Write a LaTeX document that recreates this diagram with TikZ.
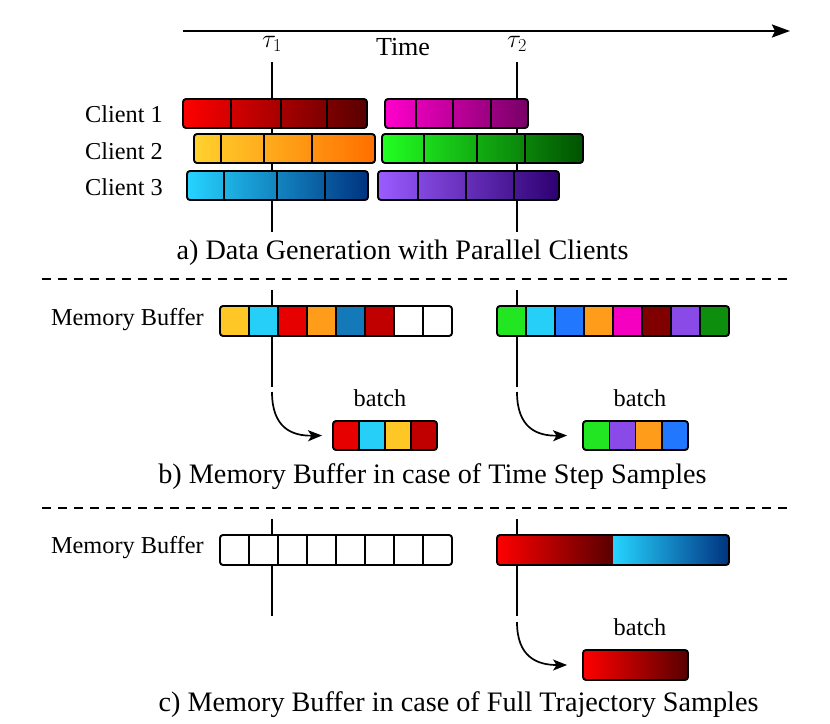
\RequirePackage{fix-cm}
\documentclass[tikz,border=0pt]{standalone}
\usepackage{fontspec}
\setmainfont{Liberation Serif}
\usetikzlibrary{arrows.meta}
\definecolor{rA}{HTML}{FF0000}\definecolor{rB}{HTML}{580000}
\definecolor{mA}{HTML}{FF00CC}\definecolor{mB}{HTML}{780066}
\definecolor{yA}{HTML}{FFD22E}\definecolor{yB}{HTML}{FF6F00}
\definecolor{gA}{HTML}{22FF22}\definecolor{gB}{HTML}{005200}
\definecolor{cA}{HTML}{26D4FF}\definecolor{cB}{HTML}{003380}
\definecolor{pA}{HTML}{9B5CFF}\definecolor{pB}{HTML}{2D0070}
\definecolor{cY}{HTML}{FFC726}\definecolor{cC}{HTML}{26CFF8}
\definecolor{cR}{HTML}{E60000}\definecolor{cO}{HTML}{FF9D1A}
\definecolor{cBB}{HTML}{1479B8}\definecolor{cDR}{HTML}{C00000}
\definecolor{cG}{HTML}{22E622}\definecolor{cBL}{HTML}{2277FF}
\definecolor{cM}{HTML}{F500C0}\definecolor{cMR}{HTML}{800000}
\definecolor{cP}{HTML}{8A4AE8}\definecolor{cDG}{HTML}{0D8F0D}
\begin{document}
\begin{tikzpicture}[x=1pt,y=-1pt,
  lbl/.style={font=\fontsize{24.3}{29}\selectfont, inner sep=0pt},
  captxt/.style={font=\fontsize{28.2}{33}\selectfont, inner sep=0pt},
  timetxt/.style={font=\fontsize{26}{31}\selectfont, inner sep=0pt},
  gbar/.style={draw=black, line width=1.9pt, rounded corners=3pt, inner sep=0pt, minimum height=29pt},
  bframe/.style={draw=black, line width=1.9pt, rounded corners=3pt, inner sep=0pt, minimum height=30pt},
  divline/.style={line width=1.5pt},
  vline/.style={line width=2pt},
  sepline/.style={line width=1.5pt, dash pattern=on 9pt off 7pt},
  arr/.style={line width=1.7pt, -{Stealth[length=14pt,width=11pt,inset=3.5pt]}},
]
\useasboundingbox (0,0) rectangle (830,723);
% time axis
\coordinate (ts) at (183,31); \coordinate (te) at (790,31);
\draw[line width=2.2pt, -{Stealth[length=18pt,width=13pt,inset=3pt]}] (ts) -- (te);
\node[timetxt] (tau1) at (272,44) {$\tau_1$};
\node[timetxt] (tau2) at (517,44) {$\tau_2$};
\node[timetxt] (time) at (403,47) {Time};
% vertical lines
\coordinate (a1t) at (272,62); \coordinate (a1b) at (272,232);
\coordinate (a2t) at (517,62); \coordinate (a2b) at (517,232);
\coordinate (b1t) at (272,290); \coordinate (b1b) at (272,387);
\coordinate (b2t) at (517,290); \coordinate (b2b) at (517,387);
\coordinate (c1t) at (272,519); \coordinate (c1b) at (272,616);
\coordinate (c2t) at (517,519); \coordinate (c2b) at (517,616);
\draw[vline] (a1t) -- (a1b); \draw[vline] (a2t) -- (a2b);
\draw[vline] (b1t) -- (b1b); \draw[vline] (b2t) -- (b2b);
\draw[vline] (c1t) -- (c1b); \draw[vline] (c2t) -- (c2b);
% section a
\node[lbl, anchor=east] (cl1) at (163,114.5) {Client 1};
\node[lbl, anchor=east] (cl2) at (163,151) {Client 2};
\node[lbl, anchor=east] (cl3) at (163,187) {Client 3};
\node[gbar, left color=rA, right color=rB, minimum width=184pt] (r1a) at (275,113.5) {};
\node[gbar, left color=mA, right color=mB, minimum width=143pt] (r1b) at (456.5,113.5) {};
\node[gbar, left color=yA, right color=yB, minimum width=181pt] (r2a) at (284.5,148.5) {};
\node[gbar, left color=gA, right color=gB, minimum width=201pt] (r2b) at (482.5,148.5) {};
\node[gbar, left color=cA, right color=cB, minimum width=181pt] (r3a) at (277.5,185.5) {};
\node[gbar, left color=pA, right color=pB, minimum width=181pt] (r3b) at (468.5,185.5) {};
\foreach \x in {231,281,327,416,453,491} \draw[divline] (\x,99.8) -- (\x,127.2);
\foreach \x in {221,264,312,424,477,525} \draw[divline] (\x,134.8) -- (\x,162.2);
\foreach \x in {224,277,325,418,466,514} \draw[divline] (\x,171.8) -- (\x,199.2);
\node[captxt] (capa) at (402.5,253) {a) Data Generation with Parallel Clients};
\coordinate (s1l) at (42,279); \coordinate (s1r) at (790,279);
\draw[sepline] (s1l) -- (s1r);
% section b
\node[lbl, anchor=east] (mb1) at (204,320) {Memory Buffer};
\begin{scope}
\clip[rounded corners=3pt] (220,306) rectangle (452,336);
\foreach \c [count=\i from 0] in {cY,cC,cR,cO,cBB,cDR,white,white}
  \fill[\c] (220+29*\i,306) rectangle (249+29*\i,336);
\end{scope}
\begin{scope}
\clip[rounded corners=3pt] (497,306) rectangle (729,336);
\foreach \c [count=\i from 0] in {cG,cC,cBL,cO,cM,cMR,cP,cDG}
  \fill[\c] (497+29*\i,306) rectangle (526+29*\i,336);
\end{scope}
\foreach \i in {1,...,7} {
  \draw[divline] (220+29*\i,306) -- (220+29*\i,336);
  \draw[divline] (497+29*\i,306) -- (497+29*\i,336);
}
\node[bframe, minimum width=232pt] (bufb1) at (336,321) {};
\node[bframe, minimum width=232pt] (bufb2) at (613,321) {};
% batches b
\begin{scope}
\clip[rounded corners=3pt] (333,421) rectangle (437,450);
\foreach \c [count=\i from 0] in {cR,cC,cY,cDR}
  \fill[\c] (333+26*\i,421) rectangle (359+26*\i,450);
\end{scope}
\begin{scope}
\clip[rounded corners=3pt] (583,421) rectangle (688,450);
\foreach \c [count=\i from 0] in {cG,cP,cO,cBL}
  \fill[\c] (583+26.25*\i,421) rectangle (609.25+26.25*\i,450);
\end{scope}
\foreach \i in {1,2,3} {
  \draw[divline] (333+26*\i,421) -- (333+26*\i,450);
  \draw[divline] (583+26.25*\i,421) -- (583+26.25*\i,450);
}
\node[bframe, minimum width=104pt, minimum height=29pt] (batb1) at (385,435.5) {};
\node[bframe, minimum width=105pt, minimum height=29pt] (batb2) at (635.5,435.5) {};
\node[lbl] (lbb1) at (380,398) {batch};
\node[lbl] (lbb2) at (640,398) {batch};
\coordinate (ab1) at (272,392); \coordinate (ab2) at (517,392);
\draw[arr] (ab1) .. controls (272,428) and (292,436) .. ([xshift=-10pt]batb1.west);
\draw[arr] (ab2) .. controls (517,428) and (537,436) .. ([xshift=-15pt]batb2.west);
\node[captxt] (capb) at (432.5,477) {b) Memory Buffer in case of Time Step Samples};
\coordinate (s2l) at (42,508); \coordinate (s2r) at (790,508);
\draw[sepline] (s2l) -- (s2r);
% section c
\node[lbl, anchor=east] (mb2) at (204,548) {Memory Buffer};
\fill[white, rounded corners=3pt] (220,535) rectangle (452,565);
\foreach \i in {1,...,7} \draw[divline] (220+29*\i,535) -- (220+29*\i,565);
\node[bframe, minimum width=232pt] (bufc1) at (336,550) {};
\begin{scope}
\clip[rounded corners=3pt] (497,535) rectangle (729,565);
\shade[left color=rA, right color=rB] (497,535) rectangle (613,565);
\shade[left color=cA, right color=cB] (613,535) rectangle (729,565);
\end{scope}
\node[bframe, minimum width=232pt] (bufc2) at (613,550) {};
\node[gbar, left color=rA, right color=rB, minimum width=105pt, minimum height=30pt] (batc) at (635.5,665) {};
\node[lbl] (lbc) at (640,627) {batch};
\coordinate (ac) at (517,622);
\draw[arr] (ac) .. controls (517,657) and (537,665) .. ([xshift=-15pt]batc.west);
\node[captxt] (capc) at (458.5,705) {c) Memory Buffer in case of Full Trajectory Samples};
\end{tikzpicture}
\end{document}
